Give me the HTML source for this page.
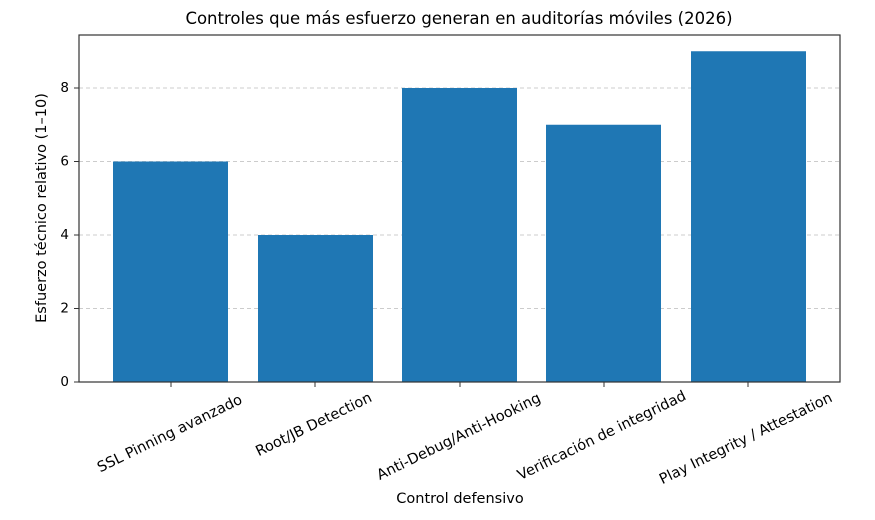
<!DOCTYPE html>
<html><head><meta charset="utf-8"><style>body{margin:0;background:#fff}svg{display:block}</style></head>
<body>
<svg width="875" height="520" xmlns="http://www.w3.org/2000/svg" font-family="DejaVu Sans, Liberation Sans, sans-serif" fill="#000">
<rect width="875" height="520" fill="#fff"/>
<g stroke="#ccc" stroke-dasharray="4,3" stroke-width="1">
<line x1="79" x2="840" y1="308.5" y2="308.5"/>
<line x1="79" x2="840" y1="235" y2="235"/>
<line x1="79" x2="840" y1="161.5" y2="161.5"/>
<line x1="79" x2="840" y1="88" y2="88"/>
</g>
<g fill="#1f77b4">
<rect x="113" y="161.5" width="115" height="220.5"/>
<rect x="258" y="235" width="115" height="147"/>
<rect x="402" y="88" width="115" height="294"/>
<rect x="546" y="124.75" width="115" height="257.25"/>
<rect x="691" y="51.25" width="115" height="330.75"/>
</g>
<rect x="79" y="35" width="761" height="347" fill="none" stroke="#333" stroke-width="1.2"/>
<g stroke="#333">
<line x1="74" x2="79" y1="382" y2="382"/><line x1="74" x2="79" y1="308.5" y2="308.5"/><line x1="74" x2="79" y1="235" y2="235"/><line x1="74" x2="79" y1="161.5" y2="161.5"/><line x1="74" x2="79" y1="88" y2="88"/>
<line x1="171" x2="171" y1="382" y2="387"/><line x1="315" x2="315" y1="382" y2="387"/><line x1="460" x2="460" y1="382" y2="387"/><line x1="604" x2="604" y1="382" y2="387"/><line x1="748" x2="748" y1="382" y2="387"/>
</g>
<g font-size="13.5" text-anchor="end" dominant-baseline="central">
<text x="69" y="382">0</text><text x="69" y="308.5">2</text><text x="69" y="235">4</text><text x="69" y="161.5">6</text><text x="69" y="88">8</text>
</g>
<g font-size="14.5" text-anchor="middle" dominant-baseline="central">
<text transform="translate(170,434) rotate(-26)">SSL Pinning avanzado</text>
<text transform="translate(314,425) rotate(-26)">Root/JB Detection</text>
<text transform="translate(459,437) rotate(-26)">Anti-Debug/Anti-Hooking</text>
<text transform="translate(602,436) rotate(-26)">Verificación de integridad</text>
<text transform="translate(746,439) rotate(-26)">Play Integrity / Attestation</text>
</g>
<text x="460" y="503" font-size="14.5" text-anchor="middle">Control defensivo</text>
<text transform="translate(46,208) rotate(-90)" font-size="14.5" text-anchor="middle">Esfuerzo técnico relativo (1–10)</text>
<text x="459" y="24" font-size="16.5" text-anchor="middle">Controles que más esfuerzo generan en auditorías móviles (2026)</text>
</svg>
</body></html>
